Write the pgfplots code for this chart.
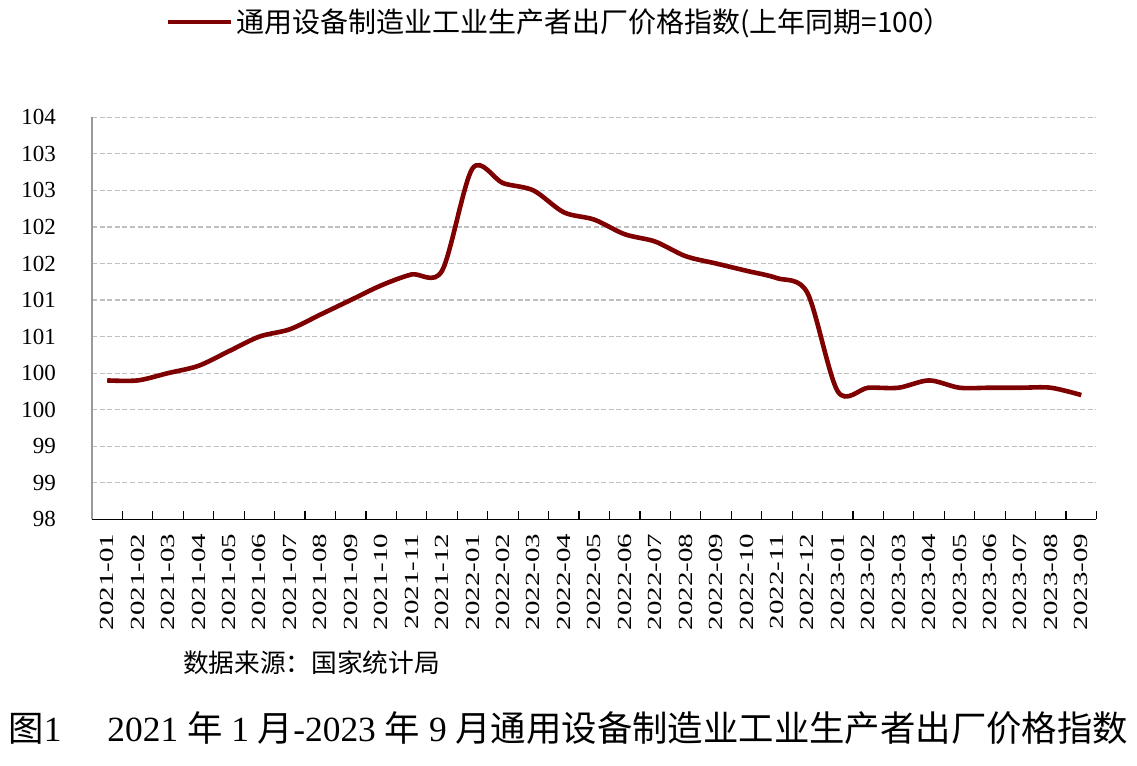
\documentclass[border=0pt]{standalone}
\usepackage{pgfplots}
\pgfplotsset{compat=1.18}
\usepackage{fontspec}
\setmainfont{Liberation Serif}
\newfontfamily\cjk{Noto Sans CJK SC}
\usepackage{graphicx}
\newcommand\lbl[1]{\scalebox{1.45}[1]{#1}}
\definecolor{lineRed}{HTML}{7F0000}
\definecolor{gridGray}{HTML}{BFBFBF}
\begin{document}
\begin{tikzpicture}
\path[use as bounding box] (0,0) rectangle (568.5pt,383pt);
\begin{axis}[
  at={(46pt,123.35pt)}, anchor=south west,
  scale only axis, width=502.25pt, height=201pt,
  xmin=-0.5, xmax=32.5, ymin=98, ymax=103.5,
  axis x line*=bottom, axis y line*=left,
  x axis line style={-, black, line width=0.7pt},
  y axis line style={-, gray!80, line width=0.7pt},
  xtick={0,...,32},
  xticklabels={\lbl{2021-01},\lbl{2021-02},\lbl{2021-03},\lbl{2021-04},\lbl{2021-05},\lbl{2021-06},\lbl{2021-07},\lbl{2021-08},\lbl{2021-09},\lbl{2021-10},\lbl{2021-11},\lbl{2021-12},\lbl{2022-01},\lbl{2022-02},\lbl{2022-03},\lbl{2022-04},\lbl{2022-05},\lbl{2022-06},\lbl{2022-07},\lbl{2022-08},\lbl{2022-09},\lbl{2022-10},\lbl{2022-11},\lbl{2022-12},\lbl{2023-01},\lbl{2023-02},\lbl{2023-03},\lbl{2023-04},\lbl{2023-05},\lbl{2023-06},\lbl{2023-07},\lbl{2023-08},\lbl{2023-09}},
  minor xtick={-0.5,0.5,...,32.5},
  major tick length=0pt, minor tick length=4pt,
  tick align=inside,
  minor tick style={black, line width=0.6pt},
  ytick={98,98.5,99,99.5,100,100.5,101,101.5,102,102.5,103,103.5},
  yticklabels={98,99,99,100,100,101,101,102,102,103,103,104},
  ymajorgrids,
  major grid style={gridGray, line width=0.6pt, dash pattern=on 2.5pt off 1.3pt},
  xticklabel style={rotate=90, anchor=east, font=\fontsize{10}{12}\selectfont},
  xticklabel shift=3.7pt,
  yticklabel style={anchor=east, font=\fontsize{11.5}{13}\selectfont},
  yticklabel shift=14.5pt,
  legend style={at={(0.0727,1.237)}, anchor=west, draw=none, fill=none, inner sep=0pt,
    font=\cjk\fontsize{14}{16}\selectfont, nodes={inner sep=1.5pt}},
  legend image code/.code={\draw[#1, line width=2.3pt] (0pt,0pt) -- (31.5pt,0pt);},
]
\addplot[lineRed, line width=2.3pt, smooth, tension=0.5] coordinates {
(0,99.9) (1,99.9) (2,100.0) (3,100.1) (4,100.3) (5,100.5) (6,100.6) (7,100.8)
(8,101.0) (9,101.2) (10,101.35) (11,101.4) (12,102.8) (13,102.6) (14,102.5)
(15,102.2) (16,102.1) (17,101.9) (18,101.8) (19,101.6) (20,101.5) (21,101.4)
(22,101.3) (23,101.1) (24,99.75) (25,99.8) (26,99.8) (27,99.9) (28,99.8)
(29,99.8) (30,99.8) (31,99.8) (32,99.7)
};
\addlegendentry{通用设备制造业工业生产者出厂价格指数(上年同期=100）}
\end{axis}
\node[anchor=center, inner sep=0pt, font=\cjk\fontsize{12.85}{15}\selectfont] at (155.75pt,51.5pt) {数据来源：国家统计局};
\node[anchor=west, inner sep=0pt, font=\fontsize{17.7}{20}\selectfont] at (4pt,19pt) {{\cjk 图}1\hspace{23pt}2021 {\cjk 年} 1 {\cjk 月}-2023 {\cjk 年} 9 {\cjk 月通用设备制造业工业生产者出厂价格指数}};
\end{tikzpicture}
\end{document}
